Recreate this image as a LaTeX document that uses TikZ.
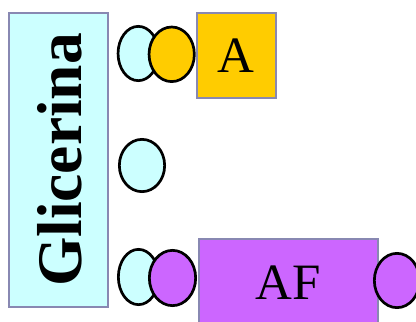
\documentclass[tikz,border=0pt]{standalone}
\usepackage{xcolor}
\usepackage{fontspec}
\setmainfont{Liberation Serif}
\usetikzlibrary{shapes.geometric}

\definecolor{cian}{HTML}{CCFFFF}
\definecolor{amarelo}{HTML}{FFCC00}
\definecolor{lilas}{HTML}{CC66FF}
\definecolor{borda}{RGB}{136,136,178}

\begin{document}
\begin{tikzpicture}[x=1pt,y=-1pt,
    bola/.style={shape=ellipse,draw=black,line width=2.7pt,inner sep=0pt},
    caixa/.style={shape=rectangle,draw=borda,line width=2pt,inner sep=0pt}]
                    \useasboundingbox (0,0) rectangle (416,322);
                    \clip (0,0) rectangle (416,322);

                    \node[caixa,fill=cian,minimum width=99pt,minimum height=294pt] (G) at (58.5,160) {};
                    \node[rotate=90,font=\fontsize{63.5}{70}\selectfont\bfseries] (Gt) at (59.5,160) {Glicerina};

                    \node[bola,fill=cian,minimum width=40.5pt,minimum height=54.3pt] (C1) at (138.3,53.5) {};
                    \node[bola,fill=amarelo,minimum width=45.3pt,minimum height=54.6pt] (Y1) at (171.7,54.3) {};
                    \node[caixa,fill=amarelo,minimum width=79pt,minimum height=85.3pt,font=\fontsize{51}{56}\selectfont] (A) at (236.2,55.3) {A};

                    \node[bola,fill=cian,minimum width=45.3pt,minimum height=52.3pt] (C2) at (142,165.5) {};

                    \node[bola,fill=cian,minimum width=40.3pt,minimum height=55.3pt] (C3) at (138.5,277) {};
                    \node[bola,fill=lilas,minimum width=46.3pt,minimum height=55.3pt] (P1) at (172.5,278) {};
                    \node[caixa,fill=lilas,minimum width=179pt,minimum height=87pt,font=\fontsize{51}{56}\selectfont] (AF) at (288.5,282.5) {AF};
                    \node[bola,fill=lilas,minimum width=45.3pt,minimum height=54.3pt] (P2) at (397,280.5) {};
                \end{tikzpicture}
\end{document}
